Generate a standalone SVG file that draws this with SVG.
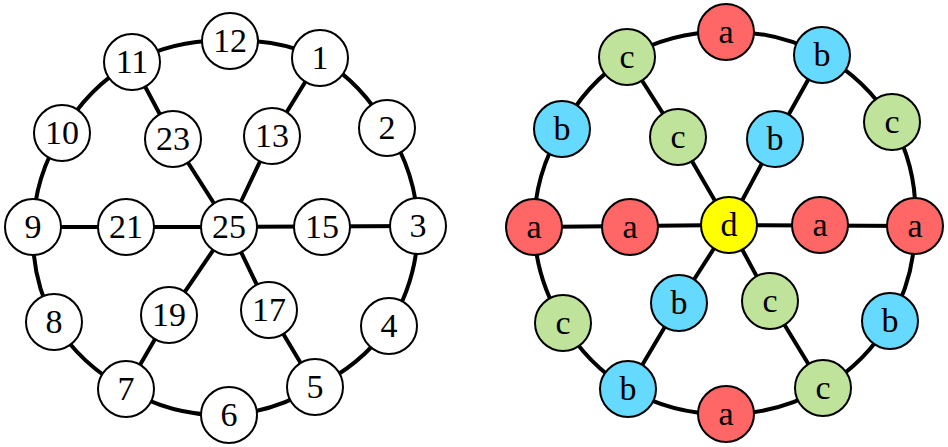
<svg xmlns="http://www.w3.org/2000/svg" width="948" height="447" viewBox="0 0 948 447">
<style>
.e{stroke:#000;stroke-width:4;fill:none}
.n circle{stroke:#000;stroke-width:2}
.w circle{fill:#fff}
.ra circle{fill:#ff6666}
.bl circle{fill:#66d9ff}
.gr circle{fill:#c0e39b}
.ye circle{fill:#ffff00}
text{font-family:"Liberation Serif","Times New Roman",serif;font-size:34px;text-anchor:middle;fill:#000}
</style>
<rect width="948" height="447" fill="#fff"/>
<g id="connectors">
<path class="e" d="M230 41 A190 190 0 0 1 320 58 A190 190 0 0 1 387 128 A190 190 0 0 1 418 226 A190 190 0 0 1 389 326 A190 190 0 0 1 315 387 A190 190 0 0 1 229 415 A190 190 0 0 1 126 389 A190 190 0 0 1 54 322 A190 190 0 0 1 33 227 A190 190 0 0 1 62 133 A190 190 0 0 1 132 62 A190 190 0 0 1 230 41 Z"/>
<path class="e" d="M229 227 L173 139 L132 62 M229 227 L272 136 L320 58 M229 227 L418 226 M229 227 L33 227 M229 227 L169 315 L126 389 M229 227 L269 310 L315 387"/>
<path class="e" d="M726 32 A190 190 0 0 1 822 55 A190 190 0 0 1 892 122 A190 190 0 0 1 915 226 A190 190 0 0 1 890 321 A190 190 0 0 1 823 388 A190 190 0 0 1 726 414 A190 190 0 0 1 628 389 A190 190 0 0 1 563 323 A190 190 0 0 1 534 227 A190 190 0 0 1 562 129 A190 190 0 0 1 627 57 A190 190 0 0 1 726 32 Z"/>
<path class="e" d="M729 225 L678 137 L627 57 M729 225 L775 139 L822 55 M729 225 L915 226 M729 225 L534 227 M729 225 L679 303 L628 389 M729 225 L770 301 L823 388"/>
</g>
<g class="n w">
<g id="n12"><circle cx="230" cy="41" r="28"/><text x="230" y="52">12</text></g>
<g id="n1"><circle cx="320" cy="58" r="28"/><text x="320" y="69">1</text></g>
<g id="n2"><circle cx="387" cy="128" r="28"/><text x="387" y="139">2</text></g>
<g id="n3"><circle cx="418" cy="226" r="28"/><text x="418" y="237">3</text></g>
<g id="n4"><circle cx="389" cy="326" r="28"/><text x="389" y="337">4</text></g>
<g id="n5"><circle cx="315" cy="387" r="28"/><text x="315" y="398">5</text></g>
<g id="n6"><circle cx="229" cy="415" r="28"/><text x="229" y="426">6</text></g>
<g id="n7"><circle cx="126" cy="389" r="28"/><text x="126" y="400">7</text></g>
<g id="n8"><circle cx="54" cy="322" r="28"/><text x="54" y="333">8</text></g>
<g id="n9"><circle cx="33" cy="227" r="28"/><text x="33" y="238">9</text></g>
<g id="n10"><circle cx="62" cy="133" r="28"/><text x="62" y="144">10</text></g>
<g id="n11"><circle cx="132" cy="62" r="28"/><text x="132" y="73">11</text></g>
<g id="n13"><circle cx="272" cy="136" r="28"/><text x="272" y="147">13</text></g>
<g id="n15"><circle cx="322" cy="227" r="28"/><text x="322" y="238">15</text></g>
<g id="n17"><circle cx="269" cy="310" r="28"/><text x="269" y="321">17</text></g>
<g id="n19"><circle cx="169" cy="315" r="28"/><text x="169" y="326">19</text></g>
<g id="n21"><circle cx="126" cy="227" r="28"/><text x="126" y="238">21</text></g>
<g id="n23"><circle cx="173" cy="139" r="28"/><text x="173" y="150">23</text></g>
<g id="n25"><circle cx="229" cy="227" r="28"/><text x="229" y="238">25</text></g>
</g>
<g class="n">
<g id="r1" class="ra"><circle cx="726" cy="32" r="28"/><text x="726" y="43">a</text></g>
<g id="r2" class="bl"><circle cx="822" cy="55" r="28"/><text x="822" y="66">b</text></g>
<g id="r3" class="gr"><circle cx="892" cy="122" r="28"/><text x="892" y="133">c</text></g>
<g id="r4" class="ra"><circle cx="915" cy="226" r="28"/><text x="915" y="237">a</text></g>
<g id="r5" class="bl"><circle cx="890" cy="321" r="28"/><text x="890" y="332">b</text></g>
<g id="r6" class="gr"><circle cx="823" cy="388" r="28"/><text x="823" y="399">c</text></g>
<g id="r7" class="ra"><circle cx="726" cy="414" r="28"/><text x="726" y="425">a</text></g>
<g id="r8" class="bl"><circle cx="628" cy="389" r="28"/><text x="628" y="400">b</text></g>
<g id="r9" class="gr"><circle cx="563" cy="323" r="28"/><text x="563" y="334">c</text></g>
<g id="r10" class="ra"><circle cx="534" cy="227" r="28"/><text x="534" y="238">a</text></g>
<g id="r11" class="bl"><circle cx="562" cy="129" r="28"/><text x="562" y="140">b</text></g>
<g id="r12" class="gr"><circle cx="627" cy="57" r="28"/><text x="627" y="68">c</text></g>
<g id="r13" class="gr"><circle cx="678" cy="137" r="28"/><text x="678" y="148">c</text></g>
<g id="r14" class="bl"><circle cx="775" cy="139" r="28"/><text x="775" y="150">b</text></g>
<g id="r15" class="ra"><circle cx="820" cy="225" r="28"/><text x="820" y="236">a</text></g>
<g id="r16" class="gr"><circle cx="770" cy="301" r="28"/><text x="770" y="312">c</text></g>
<g id="r17" class="bl"><circle cx="679" cy="303" r="28"/><text x="679" y="314">b</text></g>
<g id="r18" class="ra"><circle cx="630" cy="227" r="28"/><text x="630" y="238">a</text></g>
<g id="r19" class="ye"><circle cx="729" cy="225" r="28"/><text x="729" y="236">d</text></g>
</g>
</svg>
